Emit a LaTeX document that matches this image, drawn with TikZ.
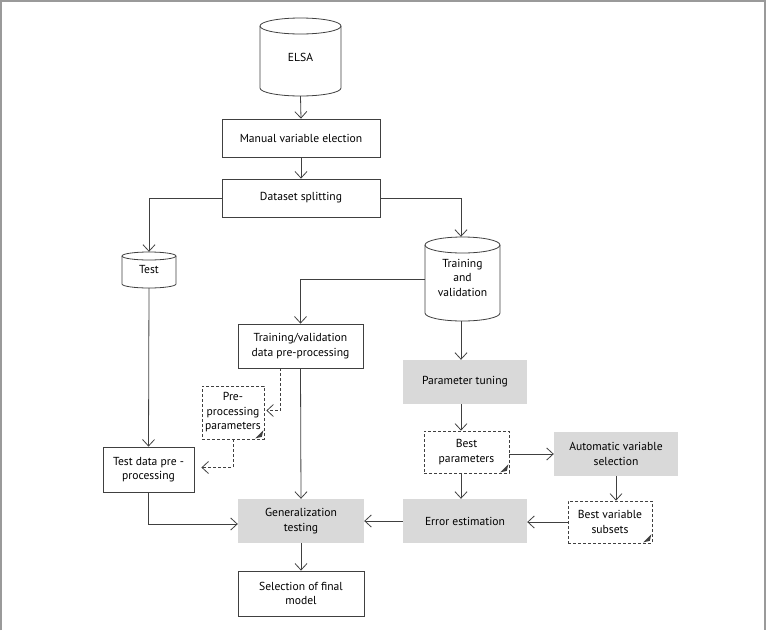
\documentclass[tikz,border=0pt]{standalone}
\usepackage{fontspec}
\setmainfont{PT Sans}
\usetikzlibrary{arrows.meta}
\definecolor{ln}{HTML}{404040}
\definecolor{gfill}{HTML}{D9D9D9}
\definecolor{framec}{HTML}{9A9A9A}
\newcommand\drawcyl[5]{% xl xr yt yb ry
  \pgfmathsetmacro\cxc{(#1+#2)/2}
  \pgfmathsetmacro\crx{(#2-#1)/2}
  \pgfmathsetmacro\cyt{#3+#5}
  \pgfmathsetmacro\cyb{#4-#5}
  \draw[ln, line width=0.8pt, fill=white] (#1,\cyt) -- (#1,\cyb)
    .. controls (#1,{\cyb+0.5523*#5}) and ({\cxc-0.5523*\crx},#4) .. (\cxc,#4)
    .. controls ({\cxc+0.5523*\crx},#4) and (#2,{\cyb+0.5523*#5}) .. (#2,\cyb)
    -- (#2,\cyt);
  \draw[ln, line width=0.8pt] (\cxc,\cyt) ellipse [x radius=\crx pt, y radius=#5 pt];
}
\newcommand\dogear[1]{%
  \fill[ln] ([xshift=-9pt,yshift=1pt]#1.south east) -- ([xshift=-1pt,yshift=9pt]#1.south east)
     -- ([xshift=-2.5pt,yshift=2.5pt]#1.south east) -- cycle;
}
\begin{document}
\begin{tikzpicture}[x=1pt,y=-1pt,
  font=\fontsize{11.6}{14.5}\selectfont,
  box/.style={draw=ln, line width=0.8pt, fill=white, align=center, inner sep=0pt},
  gbox/.style={fill=gfill, align=center, inner sep=0pt},
  note/.style={draw=ln, dashed, dash pattern=on 3pt off 2pt, line width=0.7pt, align=center, inner sep=0pt},
  cyl/.style={align=center, inner sep=0pt},
  arr/.style={draw=ln, line width=0.8pt, -{Straight Barb[length=6.5pt,width=12pt]}},
  darr/.style={arr, dash pattern=on 3pt off 2pt},
]
\useasboundingbox (0,0) rectangle (772,630);
\draw[framec, line width=1.5pt] (1,630) -- (1,1) -- (765,1) -- (765,630);

% cylinders
\drawcyl{260}{341}{18}{96}{8}
\drawcyl{122}{176}{252}{288}{4}
\drawcyl{425}{500}{237}{321}{8}
\node[cyl, minimum width=81pt, minimum height=78pt] (elsa) at (300.5,57) {\raisebox{-6pt}{ELSA}};
\node[cyl, minimum width=54pt, minimum height=36pt] (test) at (149,270) {\raisebox{-4pt}{Test}};
\node[cyl, minimum width=75pt, minimum height=84pt] (tv) at (462.5,279)
  {\raisebox{-5pt}{\begin{tabular}{@{}c@{}}Training\\and\\validation\end{tabular}}};

% boxes
\node[box, minimum width=158pt, minimum height=38pt] (manual) at (301,138) {Manual variable election};
\node[box, minimum width=158pt, minimum height=38pt] (split) at (301,198) {Dataset splitting};
\node[box, minimum width=125pt, minimum height=44pt] (tvpp) at (300.5,346) {Training/validation\\data pre-processing};
\node[box, minimum width=91pt, minimum height=45pt] (tdpp) at (148.5,469.5) {Test data pre -\\processing};
\node[box, minimum width=126pt, minimum height=45pt] (sel) at (301,593.5) {Selection of final\\model};

% gray boxes
\node[gbox, minimum width=124pt, minimum height=44pt] (pt) at (465,382) {Parameter tuning};
\node[gbox, minimum width=124pt, minimum height=44pt] (avs) at (616,454) {Automatic variable\\selection};
\node[gbox, minimum width=124pt, minimum height=44pt] (ee) at (465,521) {Error estimation};
\node[gbox, minimum width=126pt, minimum height=44pt] (gt) at (301,521) {Generalization\\testing};

% notes
\node[note, minimum width=85pt, minimum height=42pt] (bp) at (466.5,452) {Best\\parameters};
\node[note, minimum width=84pt, minimum height=42pt] (bvs) at (610,522) {Best variable\\subsets};
\node[note, minimum width=62pt, minimum height=53pt] (ppp) at (233,412.5) {Pre-\\processing\\parameters};
\dogear{bp}
\dogear{bvs}
\dogear{ppp}

% connectors
\draw[arr] (elsa.south) -- (manual.north);
\draw[arr] (manual.south) -- (split.north);
\draw[arr] (split.west) -| (test.north);
\draw[arr] (split.east) -| ([xshift=-1.5pt]tv.north);
\draw[arr] (tv.west) -| (tvpp.north);
\draw[arr] ([xshift=-1.5pt]tv.south) -- ([xshift=-1.5pt]tv.south |- pt.north);
\draw[arr] ([xshift=-1.5pt]tv.south |- pt.south) -- ([xshift=-1.5pt]tv.south |- bp.north);
\draw[arr] ([xshift=-1.5pt]tv.south |- bp.south) -- ([xshift=-1.5pt]tv.south |- ee.north);
\draw[arr] (avs.west -| bp.east) -- (avs.west);
\draw[arr] (avs.south) -- (avs.south |- bvs.north);
\draw[arr] (bvs.west) -- (bvs.west -| ee.east);
\draw[arr] (ee.west) -- (gt.east);
\draw[arr] (tvpp.south) -- (gt.north);
\draw[arr] (test.south) -- (tdpp.north);
\draw[arr] (tdpp.south) |- ([yshift=-3pt]gt.west);
\draw[arr] (gt.south) -- (sel.north);
\draw[darr, shorten >=2pt] ([xshift=-20pt]tvpp.south) |- ([yshift=2pt]ppp.east);
\draw[darr, shorten >=7pt] (ppp.south) |- ([yshift=2pt]tdpp.east);
\end{tikzpicture}
\end{document}
